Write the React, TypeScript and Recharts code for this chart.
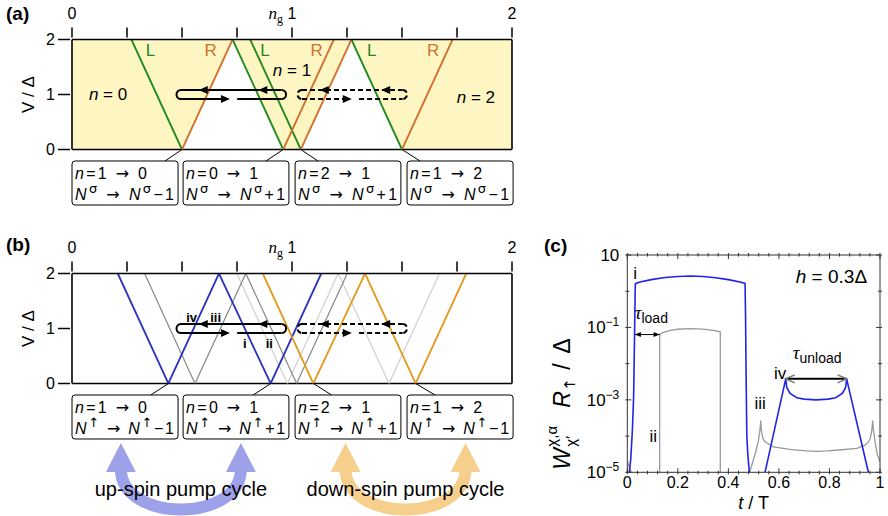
import React from 'react';
import {
  ComposedChart,
  Line,
  Area,
  XAxis,
  YAxis,
  CartesianGrid,
  ReferenceLine,
  ReferenceDot,
  ReferenceArea,
} from 'recharts';

const FONT = '"Liberation Sans", Arial, sans-serif';
const SERIF = '"Liberation Serif", "DejaVu Serif", serif';
const ARROW_FONT = '"DejaVu Sans", sans-serif';
const INK = '#000';

const GREEN = '#1f8a1f';
const RUST = '#d2702c';
const BLUE = '#2b34c0';
const AMBER = '#e39b1f';
const GREY = '#8e8e8e';
const PALE = '#d2d2d2';
const SHADE = '#fdf6c3';

// shared gate-charge / bias axes of (a) and (b)
const ngTicks = [0, 0.25, 0.5, 0.75, 1, 1.25, 1.5, 1.75, 2];
const biasTicks = [0, 1, 2];

// (a) lead resonances: ng where each line meets V = 2 and V = 0
const leftLeadTop = [0.27, 0.73, 0.81, 1.27];
const leftLeadBottom = [0.5, 0.96, 1.04, 1.5];
const rightLeadBottom = [0.5, 0.96, 1.04, 1.5];
const rightLeadTop = [0.73, 1.19, 1.27, 1.73];

// (a) unshaded triangles: left foot, apex, right foot
const gapFootL = [0.5, 1.04];
const gapApex = [0.73, 1.27];
const gapFootR = [0.96, 1.5];

// (a) charge-state and lead labels
const occNg = [0.164, 1.0, 1.836];
const occV = [1.0, 1.445, 0.96];
const occN = [0, 1, 2];
const leadLabelNg = [0.357, 0.63, 0.877, 1.112, 1.362, 1.642];
const leadLabelText = ['L', 'R', 'L', 'R', 'L', 'R'];
const LEAD_LABEL_V = 1.81;

// (b) spin-resolved zigzags, bias alternating 2,0,2,0,2
const zigBias = [2, 0, 2, 0, 2];
const upSpinNg = [0.208, 0.438, 0.668, 0.903, 1.133];
const upGhostNg = [0.33, 0.559, 0.79, 1.021, 1.251];
const downGhostNg = [0.749, 0.979, 1.21, 1.441, 1.67];
const downSpinNg = [0.867, 1.097, 1.332, 1.562, 1.792];

// pumping loops: solid n=0<->1, dashed n=1<->2
const loopStart = [0.475, 1.025];
const loopEnd = [0.973, 1.523];
const loopBackA = [0.576, 1.126];
const loopBackB = [0.847, 1.405];
const loopForward = [0.718, 1.272];
const loopResume = [0.751, 1.305];
const LOOP_HALF = 0.082;
const CAP_NG = 0.0205;

// (b) steps of the up-spin cycle
const stepText = ['iv', 'iii', 'i', 'ii'];
const stepNg = [0.544, 0.653, 0.786, 0.897];
const stepV = [1.2, 1.2, 0.73, 0.73];

// transition boxes
const boxFrom = [0, 0.505, 1.014, 1.523];
const boxTo = [0.482, 0.986, 1.495, 2.005];
const BOX_TOP = -0.209;
const BOX_BOTTOM = -1.009;
const nBefore = [1, 0, 2, 1];
const nAfter = [0, 1, 1, 2];
const spinChange = ['\u22121', '+1', '+1', '\u22121'];
const linkAFrom = [0.5, 0.96, 1.04, 1.5];
const linkATo = [0.423, 0.882, 1.118, 1.582];
const linkBFrom = [0.438, 0.903, 1.097, 1.562];
const linkBTo = [0.358, 0.824, 1.18, 1.65];

// pump-cycle arrows under (b)
const cycleNg = [0.495, 1.516];
const CYCLE_V = -1.082;
const cycleText = ['up-spin pump cycle', 'down-spin pump cycle'];
const cycleColor = ['#9ca1ea', '#f6cf8d'];

// (c) axes
const tTicks = [0, 0.04, 0.08, 0.12, 0.16, 0.2, 0.24, 0.28, 0.32, 0.36, 0.4, 0.44, 0.48, 0.52, 0.56, 0.6, 0.64, 0.68, 0.72, 0.76, 0.8, 0.84, 0.88, 0.92, 0.96, 1];
const tLabels = [0, 0.2, 0.4, 0.6, 0.8, 1];
const rateTicks = [1e-5, 1e-4, 1e-3, 1e-2, 1e-1, 1, 10];
const rateLabels = [1e-5, 1e-3, 1e-1, 10];

// (c) up-spin rate (blue): loading pulse, then unloading plateau
const blueT = [0.008, 0.014, 0.02, 0.025, 0.029, 0.031, 0.032, 0.05, 0.1, 0.15, 0.2, 0.25, 0.3, 0.35, 0.4, 0.45, 0.466, 0.468, 0.47, 0.473, 0.477, 0.483, 0.51, 0.545, 0.627, 0.631, 0.644, 0.671, 0.7, 0.747, 0.795, 0.824, 0.851, 0.864, 0.868, 0.954];
const blueW = [1e-5, 2.5e-5, 1.4e-4, 1.2e-3, 8e-2, 1.0, 1.62, 1.8, 2.12, 2.39, 2.56, 2.62, 2.55, 2.36, 2.09, 1.76, 1.64, 0.2, 6e-3, 1e-4, 3e-5, 1e-5, null, 1e-5, 3.8e-3, 2.2e-3, 1.5e-3, 1.15e-3, 1.05e-3, 1.0e-3, 1.05e-3, 1.15e-3, 1.5e-3, 2.2e-3, 3.8e-3, 1e-5];

// (c) competing rate (grey)
const greyT = [0, 0.008, 0.016, 0.07, 0.128, 0.128, 0.14, 0.17, 0.2, 0.25, 0.3, 0.34, 0.368, 0.368, 0.42, 0.484, 0.506, 0.519, 0.526, 0.528, 0.531, 0.537, 0.545, 0.578, 0.65, 0.71, 0.75, 0.79, 0.85, 0.908, 0.94, 0.954, 0.962, 0.968, 0.971, 0.975, 0.982, 0.99, 1];
const greyW = [2e-5, 1.4e-5, 1e-5, null, 1e-5, 0.064, 0.072, 0.083, 0.089, 0.093, 0.09, 0.083, 0.076, 1e-5, null, 1e-5, 3.2e-5, 7.6e-5, 1.7e-4, 2.7e-4, 1.3e-4, 8.5e-5, 7e-5, 5e-5, 4.2e-5, 3.9e-5, 3.8e-5, 3.9e-5, 4.2e-5, 4.6e-5, 5.6e-5, 6.8e-5, 9e-5, 1.5e-4, 2.7e-4, 1.3e-4, 6e-5, 3e-5, 2e-5];

// (c) loading / unloading times
const loadSpan = [0.03, 0.128];
const LOAD_W = 0.0635;
const unloadSpan = [0.627, 0.868];
const UNLOAD_W = 3.8e-3;

const zipNg = (ng: number[], v: number[]) => ng.map((x, i) => ({ ng: x, v: v[i] }));
const zipT = (t: number[], w: (number | null)[]) => t.map((x, i) => ({ t: x, w: w[i] }));

// ---------- small svg helpers ----------

const textShape =
  (content: React.ReactNode, o: { size?: number; fill?: string; anchor?: string; weight?: string; family?: string } = {}) =>
  (p: any) => (
    <text
      x={p.cx}
      y={p.cy}
      dy="0.35em"
      textAnchor={o.anchor ?? 'middle'}
      fontSize={o.size ?? 16}
      fill={o.fill ?? INK}
      fontFamily={o.family ?? FONT}
      fontWeight={o.weight}
    >
      {content}
    </text>
  );

const capShape = (side: 1 | -1, dash?: string) => (p: any) => {
  const r = 4.5;
  const x = p.cx + side * r;
  return (
    <path
      d={`M ${x} ${p.cy - r} A ${r} ${r} 0 0 ${side === 1 ? 0 : 1} ${x} ${p.cy + r}`}
      fill="none"
      stroke={INK}
      strokeWidth={2}
      strokeDasharray={dash}
    />
  );
};

const headShape = (dir: 1 | -1) => (p: any) => {
  const back = p.cx - dir * 9;
  return <polygon points={`${p.cx},${p.cy} ${back},${p.cy - 4} ${back},${p.cy + 4}`} fill={INK} />;
};

const smallHead = (dir: 1 | -1) => (p: any) => {
  const back = p.cx - dir * 6;
  return <polygon points={`${p.cx},${p.cy} ${back},${p.cy - 2.5} ${back},${p.cy + 2.5}`} fill={INK} />;
};

const chevron = (dir: 1 | -1) => (p: any) => {
  const back = p.cx - dir * 9;
  return (
    <path
      d={`M ${back} ${p.cy - 4} L ${p.cx} ${p.cy} L ${back} ${p.cy + 4}`}
      fill="none"
      stroke="#777"
      strokeWidth={1.5}
    />
  );
};

const boxShape = (i: number, spin: string) => (p: any) => {
  const { x, y, width, height } = p;
  const sup = { fontSize: 13, fontFamily: ARROW_FONT, dy: -7 };
  return (
    <g fontFamily={FONT} fontSize={16} fill={INK}>
      <rect x={x} y={y} width={width} height={height} rx={3} fill="#fff" stroke={INK} strokeWidth={1} />
      <text x={x + 3} y={y + 18} textLength={72} lengthAdjust="spacing">
        <tspan fontStyle="italic">n</tspan>
        <tspan>={nBefore[i]} </tspan>
        <tspan fontFamily={ARROW_FONT}>→</tspan>
        <tspan> {nAfter[i]}</tspan>
      </text>
      <text x={x + 3} y={y + 39} textLength={99} lengthAdjust="spacing">
        <tspan fontStyle="italic">N</tspan>
        <tspan {...sup}>{spin}</tspan>
        <tspan dy={7}> </tspan>
        <tspan fontFamily={ARROW_FONT}>→</tspan>
        <tspan> </tspan>
        <tspan fontStyle="italic">N</tspan>
        <tspan {...sup}>{spin}</tspan>
        <tspan dy={7}>{spinChange[i]}</tspan>
      </text>
    </g>
  );
};

const cycleShape = (color: string, label: string) => (p: any) => {
  const { cx, cy } = p;
  const h = 60;
  return (
    <g>
      <path
        d={`M ${cx - h} ${cy + 26} C ${cx - h} ${cy + 80}, ${cx + h} ${cy + 80}, ${cx + h} ${cy + 26}`}
        fill="none"
        stroke={color}
        strokeWidth={12}
      />
      <polygon points={`${cx - h},${cy} ${cx - h - 15},${cy + 29} ${cx - h + 15},${cy + 29}`} fill={color} />
      <polygon points={`${cx + h},${cy} ${cx + h - 15},${cy + 29} ${cx + h + 15},${cy + 29}`} fill={color} />
      <text x={cx} y={cy + 53} textAnchor="middle" fontSize={20} fontFamily={FONT} fill={INK}>
        {label}
      </text>
    </g>
  );
};

// ---------- axis ticks ----------

const ngTick = (p: any) => {
  const { x, y, payload } = p;
  const v = payload.value as number;
  return (
    <g>
      <line x1={x} x2={x} y1={y} y2={y - 10} stroke={INK} strokeWidth={1.5} />
      {Number.isInteger(v) && (
        <text x={x} y={y - 19} textAnchor="middle" fontSize={16} fontFamily={FONT} fill={INK}>
          {v}
        </text>
      )}
      {v === 1 && (
        <text x={x - 9} y={y - 19} textAnchor="end" fontSize={17} fontFamily={SERIF} fill={INK}>
          <tspan fontStyle="italic">n</tspan>
          <tspan fontSize={12} dy={4}>g</tspan>
        </text>
      )}
    </g>
  );
};

const biasTick = (p: any) => {
  const { x, y, payload } = p;
  return (
    <g>
      <line x1={x - 12} x2={x} y1={y} y2={y} stroke={INK} strokeWidth={1.5} />
      <text x={x - 15} y={y} dy="0.35em" textAnchor="end" fontSize={16} fontFamily={FONT} fill={INK}>
        {payload.value}
      </text>
    </g>
  );
};

const biasLabel = (p: any) => {
  const vb = p.viewBox;
  const cx = vb.x + 16;
  const cy = vb.y + vb.height / 2;
  return (
    <text x={cx} y={cy} dy="0.35em" textAnchor="middle" fontSize={17} fontFamily={FONT} transform={`rotate(-90 ${cx} ${cy})`}>
      V / Δ
    </text>
  );
};

const near = (a: number, list: number[]) => list.some((b) => Math.abs(a - b) < 1e-9 || Math.abs(a / b - 1) < 1e-6);

const tBottomTick = (p: any) => {
  const { x, y, payload } = p;
  const v = payload.value as number;
  const major = near(v, tLabels);
  return (
    <g>
      <line x1={x} x2={x} y1={y} y2={y - (major ? 6 : 3.5)} stroke="#333" strokeWidth={1} />
      {major && (
        <text x={x} y={y + 14} textAnchor="middle" fontSize={16} fontFamily={FONT} fill={INK}>
          {v}
        </text>
      )}
    </g>
  );
};

const tTopTick = (p: any) => {
  const { x, y, payload } = p;
  const major = near(payload.value, tLabels);
  return <line x1={x} x2={x} y1={y} y2={y + (major ? 6 : 3.5)} stroke="#333" strokeWidth={1} />;
};

const rateLeftTick = (p: any) => {
  const { x, y, payload } = p;
  const v = payload.value as number;
  const major = near(v, rateLabels);
  const e = Math.round(Math.log10(v));
  return (
    <g>
      <line x1={x} x2={x + (major ? 6 : 4)} y1={y} y2={y} stroke="#333" strokeWidth={1} />
      {major && (
        <text x={x - 6} y={y} dy="0.35em" textAnchor="end" fontSize={17} fontFamily={FONT} fill={INK}>
          <tspan>10</tspan>
          {e !== 1 && (
            <tspan fontSize={12} dy={-7}>
              {`\u2212${-e}`}
            </tspan>
          )}
        </text>
      )}
    </g>
  );
};

const rateRightTick = (p: any) => {
  const { x, y, payload } = p;
  const major = near(payload.value, rateLabels);
  return <line x1={x} x2={x - (major ? 6 : 4)} y1={y} y2={y} stroke="#333" strokeWidth={1} />;
};

const timeLabel = (p: any) => {
  const vb = p.viewBox;
  return (
    <text x={vb.x + vb.width / 2} y={vb.y + 37} textAnchor="middle" fontSize={18} fontFamily={FONT} fill={INK}>
      <tspan fontStyle="italic">t</tspan>
      <tspan> / T</tspan>
    </text>
  );
};

// rotated rate label, laid out along the rotated baseline
const rateLabel = (p: any) => {
  const vb = p.viewBox;
  const cx = vb.x - 15;
  const cy = vb.y + vb.height / 2 + 28;
  const txt = { fontFamily: FONT, fill: INK };
  return (
    <g transform={`translate(${cx} ${cy}) rotate(-90)`}>
      <text x={-78} y={8} fontSize={23} fontStyle="italic" {...txt}>W</text>
      <text x={-55} y={-5} fontSize={15} {...txt}>χ,α</text>
      <text x={-55} y={14} fontSize={15} {...txt}>χ′</text>
      <text x={-16} y={8} fontSize={23} fontStyle="italic" {...txt}>R</text>
      <text x={1} y={13} fontSize={15} fontFamily={ARROW_FONT} fill={INK}>↑</text>
      <text x={22} y={8} fontSize={23} {...txt}>/</text>
      <text x={38} y={8} fontSize={23} {...txt}>Δ</text>
    </g>
  );
};

// ---------- shared pieces of (a) and (b) ----------

function loopParts(i: number, tag: string) {
  const dash = i === 1 ? '5 3' : undefined;
  const stroke = { stroke: INK, strokeWidth: 2, strokeDasharray: dash };
  const top = 1 + LOOP_HALF;
  const bottom = 1 - LOOP_HALF;
  const a = loopStart[i] + CAP_NG;
  const b = loopEnd[i] - CAP_NG;
  return [
    <ReferenceLine key={`${tag}t`} segment={[{ x: a, y: top }, { x: b, y: top }]} {...stroke} />,
    <ReferenceLine key={`${tag}b1`} segment={[{ x: a, y: bottom }, { x: loopForward[i] - 0.02, y: bottom }]} {...stroke} />,
    <ReferenceLine key={`${tag}b2`} segment={[{ x: loopResume[i], y: bottom }, { x: b, y: bottom }]} {...stroke} />,
    <ReferenceDot key={`${tag}cl`} x={loopStart[i]} y={1} r={0} shape={capShape(1, dash)} />,
    <ReferenceDot key={`${tag}cr`} x={loopEnd[i]} y={1} r={0} shape={capShape(-1, dash)} />,
    <ReferenceDot key={`${tag}h1`} x={loopBackA[i]} y={top} r={0} shape={headShape(-1)} />,
    <ReferenceDot key={`${tag}h2`} x={loopBackB[i]} y={top} r={0} shape={headShape(-1)} />,
    <ReferenceDot key={`${tag}h3`} x={loopForward[i]} y={bottom} r={0} shape={headShape(1)} />,
  ];
}

function boxParts(spin: string, linkFrom: number[], linkTo: number[], tag: string) {
  return boxFrom.flatMap((x1, i) => [
    <ReferenceLine
      key={`${tag}l${i}`}
      segment={[{ x: linkFrom[i], y: 0 }, { x: linkTo[i], y: BOX_TOP }]}
      stroke={INK}
      strokeWidth={1}
      ifOverflow="visible"
    />,
    <ReferenceArea
      key={`${tag}b${i}`}
      x1={x1}
      x2={boxTo[i]}
      y1={BOX_TOP}
      y2={BOX_BOTTOM}
      ifOverflow="visible"
      shape={boxShape(i, spin)}
    />,
  ]);
}

function frameAxes() {
  return [
    <XAxis
      key="x"
      type="number"
      dataKey="ng"
      orientation="top"
      domain={[0, 2]}
      ticks={ngTicks}
      interval={0}
      height={30}
      tickSize={0}
      tickLine={false}
      tick={ngTick}
      axisLine={{ stroke: INK, strokeWidth: 1.6 }}
      allowDataOverflow
    />,
    <YAxis
      key="y"
      type="number"
      domain={[0, 2]}
      ticks={biasTicks}
      interval={0}
      width={60}
      tickSize={0}
      tickLine={false}
      tick={biasTick}
      axisLine={{ stroke: INK, strokeWidth: 1.6 }}
      label={biasLabel}
      allowDataOverflow
    />,
    <ReferenceLine key="fr" x={2} stroke={INK} strokeWidth={1.6} />,
    <ReferenceLine key="fb" y={0} stroke={INK} strokeWidth={1.6} />,
  ];
}

const MARGIN = { top: 9.5, right: 28, left: 12 };

function PanelA() {
  return (
    <div style={{ position: 'absolute', left: 0, top: 0 }}>
      <ComposedChart width={540} height={230} margin={{ ...MARGIN, bottom: 80.5 }}>
        <CartesianGrid horizontal={false} vertical={false} fill={SHADE} fillOpacity={1} />
        {frameAxes()}
        {gapApex.map((apex, i) => (
          <Area
            key={`gap${i}`}
            data={zipNg([gapFootL[i], apex, gapFootR[i]], [0, 2, 0])}
            dataKey="v"
            type="linear"
            fill="#fff"
            fillOpacity={1}
            stroke="none"
            isAnimationActive={false}
          />
        ))}
        {leftLeadTop.map((top, i) => (
          <Line
            key={`L${i}`}
            data={zipNg([top, leftLeadBottom[i]], [2, 0])}
            dataKey="v"
            type="linear"
            stroke={GREEN}
            strokeWidth={1.8}
            dot={false}
            activeDot={false}
            isAnimationActive={false}
          />
        ))}
        {rightLeadTop.map((top, i) => (
          <Line
            key={`R${i}`}
            data={zipNg([rightLeadBottom[i], top], [0, 2])}
            dataKey="v"
            type="linear"
            stroke={RUST}
            strokeWidth={1.8}
            dot={false}
            activeDot={false}
            isAnimationActive={false}
          />
        ))}
        {leadLabelNg.map((ng, i) => (
          <ReferenceDot
            key={`ll${i}`}
            x={ng}
            y={LEAD_LABEL_V}
            r={0}
            shape={textShape(leadLabelText[i], { size: 17, fill: leadLabelText[i] === 'L' ? GREEN : RUST })}
          />
        ))}
        {occNg.map((ng, i) => (
          <ReferenceDot
            key={`occ${i}`}
            x={ng}
            y={occV[i]}
            r={0}
            shape={textShape(
              <>
                <tspan fontStyle="italic">n</tspan>
                <tspan> = {occN[i]}</tspan>
              </>,
              { size: 17 },
            )}
          />
        ))}
        {loopParts(0, 'sa')}
        {loopParts(1, 'da')}
        {boxParts('σ', linkAFrom, linkATo, 'ba')}
      </ComposedChart>
    </div>
  );
}

function PanelB() {
  const zig = (ng: number[], color: string, width: number, key: string) => (
    <Line
      key={key}
      data={zipNg(ng, zigBias)}
      dataKey="v"
      type="linear"
      stroke={color}
      strokeWidth={width}
      dot={false}
      activeDot={false}
      isAnimationActive={false}
    />
  );
  return (
    <div style={{ position: 'absolute', left: 0, top: 234 }}>
      <ComposedChart width={540} height={282} margin={{ ...MARGIN, bottom: 132.5 }}>
        {frameAxes()}
        {zig(downGhostNg, PALE, 1.3, 'dg')}
        {zig(upGhostNg, GREY, 1.3, 'ug')}
        {zig(upSpinNg, BLUE, 1.8, 'up')}
        {zig(downSpinNg, AMBER, 1.8, 'dn')}
        {loopParts(0, 'sb')}
        {loopParts(1, 'db')}
        {stepText.map((s, i) => (
          <ReferenceDot key={`st${i}`} x={stepNg[i]} y={stepV[i]} r={0} shape={textShape(s, { size: 13, weight: 'bold' })} />
        ))}
        {boxParts('↑', linkBFrom, linkBTo, 'bb')}
        {cycleNg.map((ng, i) => (
          <ReferenceDot
            key={`cy${i}`}
            x={ng}
            y={CYCLE_V}
            r={0}
            ifOverflow="visible"
            shape={cycleShape(cycleColor[i], cycleText[i])}
          />
        ))}
      </ComposedChart>
    </div>
  );
}

function PanelC() {
  const frame = { stroke: '#333', strokeWidth: 1 };
  const ids = { xAxisId: 'b', yAxisId: 'l' };
  return (
    <div style={{ position: 'absolute', left: 540, top: 234 }}>
      <ComposedChart width={348} height={282} margin={{ top: 20, right: 7, bottom: 13.7, left: 37.3 }}>
        <XAxis
          xAxisId="b"
          type="number"
          dataKey="t"
          domain={[0, 1]}
          ticks={tTicks}
          interval={0}
          height={30}
          tickSize={0}
          tickLine={false}
          tick={tBottomTick}
          axisLine={frame}
          label={timeLabel}
          allowDataOverflow
        />
        <XAxis
          xAxisId="top"
          orientation="top"
          type="number"
          dataKey="t"
          domain={[0, 1]}
          ticks={tTicks}
          interval={0}
          height={1}
          tickSize={0}
          tickLine={false}
          tick={tTopTick}
          axisLine={frame}
          allowDataOverflow
        />
        <YAxis
          yAxisId="l"
          type="number"
          scale="log"
          domain={[1e-5, 10]}
          ticks={rateTicks}
          interval={0}
          width={50}
          tickSize={0}
          tickLine={false}
          tick={rateLeftTick}
          axisLine={frame}
          label={rateLabel}
          allowDataOverflow
        />
        <YAxis
          yAxisId="r"
          orientation="right"
          type="number"
          scale="log"
          domain={[1e-5, 10]}
          ticks={rateTicks}
          interval={0}
          width={1}
          tickSize={0}
          tickLine={false}
          tick={rateRightTick}
          axisLine={frame}
          allowDataOverflow
        />
        <Line
          {...ids}
          data={zipT(greyT, greyW)}
          dataKey="w"
          type="linear"
          stroke="#999"
          strokeWidth={1.3}
          dot={false}
          activeDot={false}
          isAnimationActive={false}
        />
        <Line
          {...ids}
          data={zipT(blueT, blueW)}
          dataKey="w"
          type="linear"
          stroke="#1f24e8"
          strokeWidth={1.6}
          dot={false}
          activeDot={false}
          isAnimationActive={false}
        />
        <ReferenceLine {...ids} segment={[{ x: loadSpan[0], y: LOAD_W }, { x: loadSpan[1], y: LOAD_W }]} stroke={INK} strokeWidth={1} />
        <ReferenceDot {...ids} x={loadSpan[0]} y={LOAD_W} r={0} shape={smallHead(-1)} />
        <ReferenceDot {...ids} x={loadSpan[1]} y={LOAD_W} r={0} shape={smallHead(1)} />
        <ReferenceLine {...ids} segment={[{ x: unloadSpan[0], y: UNLOAD_W }, { x: unloadSpan[1], y: UNLOAD_W }]} stroke={INK} strokeWidth={2} />
        <ReferenceDot {...ids} x={unloadSpan[0]} y={UNLOAD_W} r={0} shape={chevron(-1)} />
        <ReferenceDot {...ids} x={unloadSpan[1]} y={UNLOAD_W} r={0} shape={chevron(1)} />
        <ReferenceDot {...ids} x={0.031} y={3.2} r={0} shape={textShape('i', { size: 17 })} />
        <ReferenceDot {...ids} x={0.103} y={1e-4} r={0} shape={textShape('ii', { size: 17 })} />
        <ReferenceDot {...ids} x={0.526} y={8e-4} r={0} shape={textShape('iii', { size: 17 })} />
        <ReferenceDot {...ids} x={0.605} y={5.4e-3} r={0} shape={textShape('iv', { size: 17 })} />
        <ReferenceDot
          {...ids}
          x={0.095}
          y={0.25}
          r={0}
          shape={textShape(
            <>
              <tspan fontFamily={SERIF} fontStyle="italic" fontSize={19}>τ</tspan>
              <tspan fontSize={14} dy={4}>load</tspan>
            </>,
          )}
        />
        <ReferenceDot
          {...ids}
          x={0.751}
          y={0.0195}
          r={0}
          shape={textShape(
            <>
              <tspan fontFamily={SERIF} fontStyle="italic" fontSize={19}>τ</tspan>
              <tspan fontSize={14} dy={4}>unload</tspan>
            </>,
          )}
        />
        <ReferenceDot
          {...ids}
          x={0.949}
          y={2.62}
          r={0}
          shape={textShape(
            <>
              <tspan fontStyle="italic">h</tspan>
              <tspan> = 0.3Δ</tspan>
            </>,
            { size: 19, anchor: 'end' },
          )}
        />
      </ComposedChart>
    </div>
  );
}

const tag = (left: number, top: number): React.CSSProperties => ({
  position: 'absolute',
  left,
  top,
  fontFamily: FONT,
  fontWeight: 'bold',
  fontSize: 19,
  lineHeight: '19px',
});

export default function App() {
  return (
    <div style={{ position: 'absolute', left: 0, top: 0, width: 888, height: 516, background: '#fff', overflow: 'hidden' }}>
      <PanelA />
      <PanelB />
      <PanelC />
      <div style={tag(6, 4)}>(a)</div>
      <div style={tag(6, 235)}>(b)</div>
      <div style={tag(544, 236)}>(c)</div>
    </div>
  );
}
